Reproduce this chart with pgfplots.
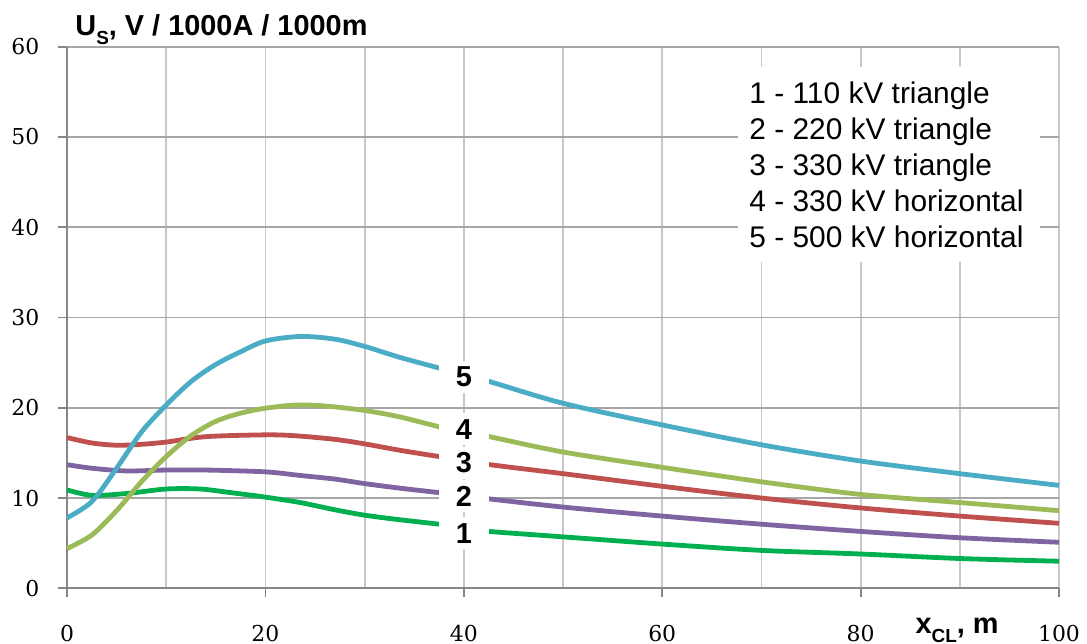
\documentclass[border=0pt]{standalone}
\usepackage{pgfplots}
\pgfplotsset{compat=1.18}
\usepackage{fontspec}
\setmainfont{Liberation Sans}
\newfontfamily\tickfont{DejaVu Serif}
\definecolor{c1}{RGB}{0,176,80}
\definecolor{c2}{RGB}{128,100,162}
\definecolor{c3}{RGB}{192,80,77}
\definecolor{c4}{RGB}{155,187,89}
\definecolor{c5}{RGB}{75,172,198}
\definecolor{gridh}{RGB}{166,166,166}
\definecolor{gridv}{RGB}{200,200,200}
\definecolor{axisc}{RGB}{134,134,134}
\tikzset{clab/.style={fill=white, inner sep=0pt, minimum width=25bp, minimum height=16bp,
        font=\bfseries\fontsize{14.5}{17}\selectfont},
        leg/.style={anchor=base west, inner sep=0pt, font=\fontsize{15}{18}\selectfont}}
\begin{document}
\begin{tikzpicture}
\begin{axis}[
  scale only axis, width=496bp, height=270.8bp,
  at={(0,0)}, anchor=south west,
  xmin=0, xmax=100, ymin=0, ymax=60,
  axis lines=left, axis line style={-, axisc, line width=0.9bp},
  xtick={0,20,...,100}, minor xtick={10,30,50,70,90},
  ytick={0,10,...,60},
  major tick length=4.5bp, minor tick length=0pt,
  tick align=outside, tick style={axisc, line width=0.9bp},
  xmajorgrids, xminorgrids, ymajorgrids,
  major x grid style={gridv, line width=0.9bp},
  minor x grid style={gridv, line width=0.9bp},
  y grid style={gridh, line width=0.9bp},
  /pgf/number format/assume math mode=true,
  ticklabel style={font=\tickfont\fontsize{11}{13}\selectfont},
  xticklabel style={inner sep=1bp, yshift=-12.9bp},
  yticklabel style={xshift=-5.8bp},
  clip=false,
]
\addplot[c1, line width=2.4bp, smooth] coordinates {
(0,10.9) (2.5,10.3) (6,10.5) (10,11.0) (13.4,11.0) (16.5,10.6) (20,10.1) (23.5,9.5) (27,8.7) (30,8.1) (33.5,7.6) (37.5,7.1) (40,6.7) (42.6,6.3) (50,5.7) (60,4.9) (70,4.2) (80,3.8) (90,3.3) (100,3.0)};
\addplot[c2, line width=2.4bp, smooth] coordinates {
(0,13.7) (2.5,13.3) (6,13.0) (10,13.1) (14,13.1) (20,12.9) (23.5,12.5) (27,12.1) (30,11.6) (33.5,11.1) (37.5,10.6) (40,10.3) (42.6,9.9) (50,9.0) (60,8.0) (70,7.1) (80,6.3) (90,5.6) (100,5.1)};
\addplot[c3, line width=2.4bp, smooth] coordinates {
(0,16.7) (2.5,16.1) (5,15.85) (7.5,15.95) (10,16.2) (14,16.8) (20,17.0) (23,16.9) (27,16.5) (30,16.0) (33.5,15.3) (37.5,14.6) (40,14.2) (42.6,13.7) (50,12.7) (60,11.3) (70,10.0) (80,8.9) (90,8.0) (100,7.2)};
\addplot[c4, line width=2.4bp, smooth] coordinates {
(0,4.4) (2.5,5.9) (5,8.6) (7.5,11.8) (10,14.6) (12.5,16.9) (15,18.5) (17.5,19.4) (20,19.95) (23,20.3) (26,20.2) (30,19.7) (33.5,19.0) (37.5,17.9) (40,17.4) (42.6,16.8) (50,15.1) (60,13.4) (70,11.8) (80,10.4) (90,9.5) (100,8.6)};
\addplot[c5, line width=2.4bp, smooth] coordinates {
(0,7.8) (2.5,9.6) (5,13.3) (7.5,17.3) (10,20.3) (12.5,22.9) (15,24.8) (17.5,26.2) (20,27.4) (23.5,27.9) (27,27.6) (30,26.8) (33.5,25.6) (37.5,24.4) (40,23.6) (42.6,22.9) (50,20.5) (60,18.1) (70,15.9) (80,14.1) (90,12.7) (100,11.4)};
% curve labels
\node[clab] at (axis cs:40,23.4) {5};
\node[clab] at (axis cs:40,17.6) {4};
\node[clab] at (axis cs:40,13.9) {3};
\node[clab] at (axis cs:40,10.2) {2};
\node[clab] at (axis cs:40,6.1) {1};
% legend box
\fill[white] (axis cs:67.6,36.1) rectangle (axis cs:98.1,57.7);
\node[leg] at (axis cs:68.75,53.74) {1 - 110 kV triangle};
\node[leg] at (axis cs:68.75,49.76) {2 - 220 kV triangle};
\node[leg] at (axis cs:68.75,45.77) {3 - 330 kV triangle};
\node[leg] at (axis cs:68.75,41.78) {4 - 330 kV horizontal};
\node[leg] at (axis cs:68.75,37.8) {5 - 500 kV horizontal};
% axis titles
\node[anchor=base west, inner sep=0pt, xshift=4bp, yshift=5.85bp,
      font=\bfseries\fontsize{14.5}{17}\selectfont] at (rel axis cs:0,1)
      {U\raisebox{-4.5bp}{\fontsize{9.5}{10}\selectfont S}, V / 1000A / 1000m};
\node[anchor=base west, inner sep=0pt, yshift=-22.35bp,
      font=\bfseries\fontsize{14.5}{17}\selectfont] at (axis cs:85.5,0)
      {x\raisebox{-4.5bp}{\fontsize{9.5}{10}\selectfont CL}, m};
\end{axis}
\pgfresetboundingbox
\path[use as bounding box] (-33.5bp,-27.85bp) rectangle (510bp,294.15bp);
\end{tikzpicture}
\end{document}
